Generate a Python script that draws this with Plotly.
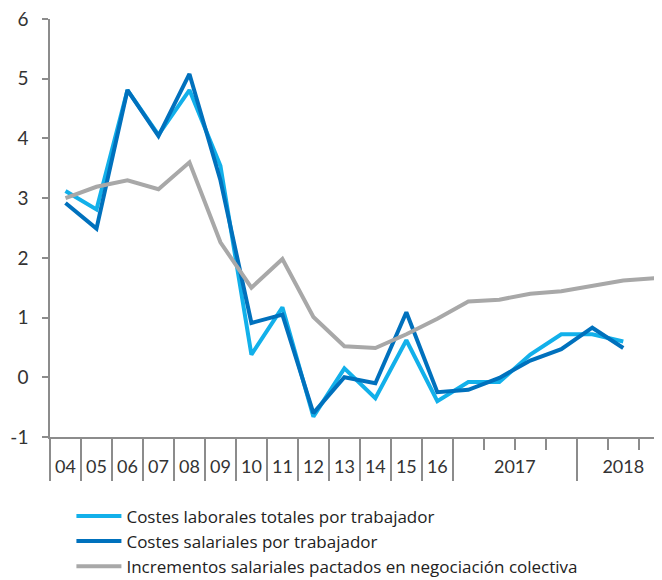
import plotly.graph_objects as go

# periods: annual 2004-2016, then quarterly 2017 T1 - 2018 T3
periods = ["04", "05", "06", "07", "08", "09", "10", "11", "12", "13", "14", "15", "16",
           "2017T1", "2017T2", "2017T3", "2017T4", "2018T1", "2018T2", "2018T3"]

costes_laborales = [3.12, 2.81, 4.81, 4.06, 4.81, 3.54, 0.38, 1.17, -0.66, 0.15, -0.35, 0.62, -0.40,
                    -0.08, -0.08, 0.38, 0.72, 0.72, 0.60, None]
costes_salariales = [2.92, 2.49, 4.81, 4.04, 5.08, 3.30, 0.91, 1.05, -0.60, 0.00, -0.10, 1.09, -0.25,
                     -0.21, -0.01, 0.28, 0.47, 0.83, 0.49, None]
incrementos_pactados = [3.00, 3.19, 3.30, 3.15, 3.60, 2.26, 1.50, 1.98, 1.01, 0.52, 0.49, 0.72, 0.98,
                        1.27, 1.30, 1.40, 1.44, 1.53, 1.62, 1.66]

series_names = ["Costes laborales totales por trabajador",
                "Costes salariales por trabajador",
                "Incrementos salariales pactados en negociación colectiva"]
COLORS = ["#12B0EA", "#0071BD", "#A8A8A8"]

y_ticks = [-1, 0, 1, 2, 3, 4, 5, 6]
y_labels = ["-1", "0", "1", "2", "3", "4", "5", "6"]

# axis labels: annual labels centred on their slot, years centred on their quarters
label_text = ["04", "05", "06", "07", "08", "09", "10", "11", "12", "13", "14", "15", "16", "2017", "2018"]
label_pos = [i + 0.5 for i in range(13)] + [15.0, 18.5]
year_bounds = list(range(14)) + [17]
quarter_bounds = [14, 15, 16, 18, 19]

xs = [i + 0.5 for i in range(len(periods))]
FONT = "Lato, sans-serif"
AXIS = "#8C8C8C"
XR = [0, 19.75]

fig = go.Figure()
for name, vals, col in zip(series_names,
                           [costes_laborales, costes_salariales, incrementos_pactados], COLORS):
    fig.add_trace(go.Scatter(
        x=xs, y=vals, name=name, mode="lines",
        line=dict(color=col, width=4),
        customdata=periods,
        hovertemplate="%{customdata}: %{y:.2f}<extra></extra>",
    ))

# the page body adds an 8px margin, so the figure is a bit smaller than the window
fig.update_layout(
    width=654, height=572,
    paper_bgcolor="white", plot_bgcolor="white",
    font=dict(family=FONT, size=18, color="#333333"),
    margin=dict(l=42, r=0, t=11, b=143, autoexpand=False),
    showlegend=True,
    legend=dict(
        x=0.035, y=-0.147, xanchor="left", yanchor="top",
        font=dict(family="Open Sans, sans-serif", size=17, color="#222222"),
        itemwidth=45, tracegroupgap=0,
        bgcolor="rgba(0,0,0,0)",
    ),
    xaxis=dict(
        range=XR, showgrid=False, zeroline=False,
        showline=True, linecolor=AXIS, linewidth=1.5,
        tickmode="array", tickvals=year_bounds, showticklabels=False,
        ticks="outside", ticklen=42, tickcolor=AXIS, tickwidth=1.5,
    ),
    xaxis2=dict(
        range=XR, overlaying="x", anchor="y", side="bottom",
        showgrid=False, zeroline=False, showline=False,
        tickmode="array", tickvals=label_pos, ticktext=label_text,
        ticks="outside", ticklen=13, tickcolor="rgba(0,0,0,0)",
        tickfont=dict(size=18, color="#333333"),
        ticklabeloverflow="allow",
    ),
    xaxis3=dict(
        range=XR, overlaying="x", anchor="y", side="bottom",
        showgrid=False, zeroline=False, showline=False,
        tickmode="array", tickvals=quarter_bounds, showticklabels=False,
        ticks="outside", ticklen=12, tickcolor=AXIS, tickwidth=1.5,
    ),
    yaxis=dict(
        range=[-1, 6], showgrid=False, zeroline=False,
        tickmode="array", tickvals=y_ticks, ticktext=y_labels,
        showline=True, linecolor=AXIS, linewidth=1.5,
        ticks="outside", ticklen=6, tickcolor=AXIS, tickwidth=1.5,
        ticklabelstandoff=10, ticklabeloverflow="allow",
        tickfont=dict(size=19, color="#333333"),
    ),
)
# invisible traces so the overlay axes are drawn
fig.add_trace(go.Scatter(x=[None], y=[None], xaxis="x2", showlegend=False, hoverinfo="skip"))
fig.add_trace(go.Scatter(x=[None], y=[None], xaxis="x3", showlegend=False, hoverinfo="skip"))

fig.write_html("out.html")
